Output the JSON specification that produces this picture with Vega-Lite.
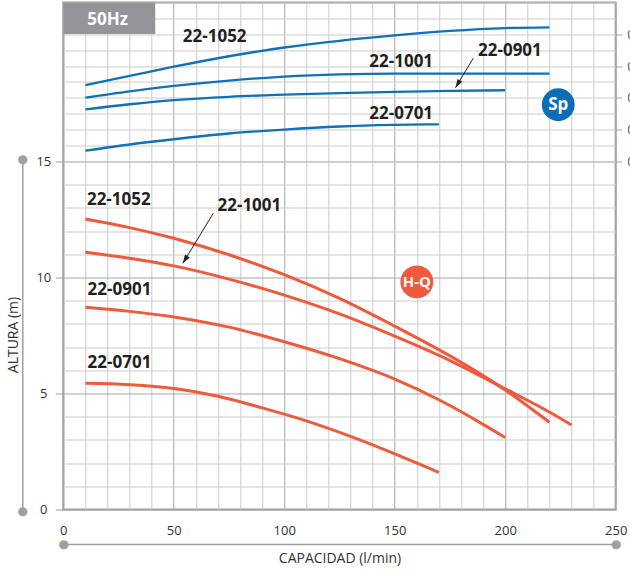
{
  "$schema": "https://vega.github.io/schema/vega-lite/v6.json",
  "width": 552.4,
  "height": 507,
  "autosize": "none",
  "padding": {"left": 63.3, "top": 2.5, "right": 14, "bottom": 63.5},
  "background": "white",
  "config": {
    "view": {"stroke": "#9c9c9c", "strokeWidth": 2},
    "axis": {"gridWidth": 1}
  },
  "datasets": {
    "hq": [
      {"m": "22-1052", "q": 10, "h": 12.52}, {"m": "22-1052", "q": 30, "h": 12.15}, {"m": "22-1052", "q": 50, "h": 11.69},
      {"m": "22-1052", "q": 75, "h": 10.98}, {"m": "22-1052", "q": 100, "h": 10.12}, {"m": "22-1052", "q": 125, "h": 9.1},
      {"m": "22-1052", "q": 150, "h": 7.9}, {"m": "22-1052", "q": 175, "h": 6.62}, {"m": "22-1052", "q": 200, "h": 5.15},
      {"m": "22-1052", "q": 210, "h": 4.47}, {"m": "22-1052", "q": 220, "h": 3.76},
      {"m": "22-1001", "q": 10, "h": 11.09}, {"m": "22-1001", "q": 30, "h": 10.83}, {"m": "22-1001", "q": 50, "h": 10.5},
      {"m": "22-1001", "q": 75, "h": 9.93}, {"m": "22-1001", "q": 100, "h": 9.24}, {"m": "22-1001", "q": 125, "h": 8.43},
      {"m": "22-1001", "q": 150, "h": 7.47}, {"m": "22-1001", "q": 175, "h": 6.42}, {"m": "22-1001", "q": 200, "h": 5.2},
      {"m": "22-1001", "q": 220, "h": 4.2}, {"m": "22-1001", "q": 230, "h": 3.64},
      {"m": "22-0901", "q": 10, "h": 8.72}, {"m": "22-0901", "q": 30, "h": 8.54}, {"m": "22-0901", "q": 50, "h": 8.3},
      {"m": "22-0901", "q": 75, "h": 7.86}, {"m": "22-0901", "q": 100, "h": 7.23}, {"m": "22-0901", "q": 125, "h": 6.5},
      {"m": "22-0901", "q": 150, "h": 5.62}, {"m": "22-0901", "q": 170, "h": 4.73}, {"m": "22-0901", "q": 190, "h": 3.67},
      {"m": "22-0901", "q": 200, "h": 3.1},
      {"m": "22-0701", "q": 10, "h": 5.44}, {"m": "22-0701", "q": 30, "h": 5.38}, {"m": "22-0701", "q": 50, "h": 5.22},
      {"m": "22-0701", "q": 70, "h": 4.88}, {"m": "22-0701", "q": 90, "h": 4.38}, {"m": "22-0701", "q": 110, "h": 3.82},
      {"m": "22-0701", "q": 130, "h": 3.15}, {"m": "22-0701", "q": 150, "h": 2.4}, {"m": "22-0701", "q": 170, "h": 1.6}
    ],
    "sp": [
      {"m": "22-1052", "q": 10, "p": 4.81}, {"m": "22-1052", "q": 30, "p": 5.38}, {"m": "22-1052", "q": 50, "p": 5.96},
      {"m": "22-1052", "q": 75, "p": 6.62}, {"m": "22-1052", "q": 100, "p": 7.17}, {"m": "22-1052", "q": 125, "p": 7.59},
      {"m": "22-1052", "q": 150, "p": 7.93}, {"m": "22-1052", "q": 175, "p": 8.21}, {"m": "22-1052", "q": 200, "p": 8.39},
      {"m": "22-1052", "q": 220, "p": 8.44},
      {"m": "22-1001", "q": 10, "p": 4.01}, {"m": "22-1001", "q": 30, "p": 4.41}, {"m": "22-1001", "q": 50, "p": 4.75},
      {"m": "22-1001", "q": 75, "p": 5.09}, {"m": "22-1001", "q": 100, "p": 5.34}, {"m": "22-1001", "q": 125, "p": 5.48},
      {"m": "22-1001", "q": 150, "p": 5.53}, {"m": "22-1001", "q": 175, "p": 5.53}, {"m": "22-1001", "q": 200, "p": 5.53},
      {"m": "22-1001", "q": 220, "p": 5.53},
      {"m": "22-0901", "q": 10, "p": 3.28}, {"m": "22-0901", "q": 30, "p": 3.6}, {"m": "22-0901", "q": 50, "p": 3.86},
      {"m": "22-0901", "q": 75, "p": 4.07}, {"m": "22-0901", "q": 100, "p": 4.2}, {"m": "22-0901", "q": 125, "p": 4.3},
      {"m": "22-0901", "q": 150, "p": 4.38}, {"m": "22-0901", "q": 175, "p": 4.44}, {"m": "22-0901", "q": 200, "p": 4.48},
      {"m": "22-0701", "q": 10, "p": 0.68}, {"m": "22-0701", "q": 30, "p": 1.07}, {"m": "22-0701", "q": 50, "p": 1.4},
      {"m": "22-0701", "q": 75, "p": 1.76}, {"m": "22-0701", "q": 100, "p": 2.01}, {"m": "22-0701", "q": 125, "p": 2.2},
      {"m": "22-0701", "q": 150, "p": 2.3}, {"m": "22-0701", "q": 170, "p": 2.34}
    ],
    "hqLabels": [
      {"t": "22-1052", "q": 10.7, "h": 13.12},
      {"t": "22-1001", "q": 69.8, "h": 12.87},
      {"t": "22-0901", "q": 11.0, "h": 9.25},
      {"t": "22-0701", "q": 11.0, "h": 6.1}
    ],
    "spLabels": [
      {"t": "22-1052", "q": 54.1, "p": 7.53},
      {"t": "22-1001", "q": 138.5, "p": 5.96},
      {"t": "22-0901", "q": 187.7, "p": 6.65},
      {"t": "22-0701", "q": 138.5, "p": 2.67}
    ],
    "hqArrow": [{"q": 54.1, "h": 10.61, "q2": 67.9, "h2": 12.77}],
    "spArrow": [{"q": 177.5, "p": 4.64, "q2": 185.5, "p2": 6.49}],
    "hqBadge": [{"t": "H-Q", "q": 160, "h": 9.81}],
    "spBadge": [{"t": "Sp", "q": 224, "p": 3.57}],
    "tagBox": [{"q": 0, "q2": 41.6, "p": 10, "p2": 8.02}],
    "tagText": [{"t": "50Hz", "q": 20.1, "p": 8.9}]
  },
  "layer": [
    {
      "encoding": {
        "x": {
          "field": "q", "type": "quantitative",
          "scale": {"domain": [0, 250], "nice": false, "zero": false},
          "axis": {
            "orient": "bottom",
            "values": [0,10,20,30,40,50,60,70,80,90,100,110,120,130,140,150,160,170,180,190,200,210,220,230,240,250],
            "grid": true,
            "gridColor": {"condition": {"test": "datum.value % 50 === 0", "value": "#a6a6a6"}, "value": "#cbcbcb"},
            "ticks": false, "tickSize": 0, "domain": false,
            "labelExpr": "datum.value % 50 === 0 ? datum.label : ''",
            "labelFlush": false, "labelOverlap": false,
            "labelPadding": 15, "labelFont": "Open Sans", "labelFontSize": 13, "labelColor": "#333333",
            "title": null
          }
        },
        "y": {
          "field": "h", "type": "quantitative",
          "scale": {"domain": [0, 21.853], "nice": false, "zero": false},
          "axis": {
            "orient": "left",
            "values": [0,1,2,3,4,5,6,7,8,9,10,11,12,13,14,15],
            "grid": true,
            "gridColor": {"condition": {"test": "datum.value % 5 === 0", "value": "#a6a6a6"}, "value": "#cbcbcb"},
            "ticks": true, "tickSize": 8, "tickColor": "#9c9c9c",
            "tickOpacity": {"condition": {"test": "datum.value % 5 === 0", "value": 1}, "value": 0},
            "domain": false,
            "labelExpr": "datum.value % 5 === 0 ? datum.label : ''",
            "labelAlign": "center", "labelBaseline": "middle", "labelPadding": 12,
            "labelFont": "Open Sans", "labelFontSize": 13, "labelColor": "#333333",
            "title": null
          }
        }
      },
      "layer": [
        {
          "data": {"name": "hq"},
          "mark": {"type": "line", "color": "#f05a3c", "strokeWidth": 3, "interpolate": "monotone"},
          "encoding": {"detail": {"field": "m", "type": "nominal"}}
        },
        {
          "data": {"name": "hqLabels"},
          "mark": {"type": "text", "font": "Open Sans", "fontWeight": "bold", "fontSize": 17, "color": "#231f20", "align": "left", "baseline": "alphabetic"},
          "encoding": {"text": {"field": "t", "type": "nominal"}}
        },
        {
          "data": {"name": "hqArrow"},
          "mark": {"type": "rule", "color": "#231f20", "strokeWidth": 1},
          "encoding": {"x2": {"field": "q2"}, "y2": {"field": "h2"}}
        },
        {
          "data": {"name": "hqArrow"},
          "mark": {"type": "point", "shape": "M0,0L-0.32,1L0.32,1Z", "size": 300, "angle": 211.5, "filled": true, "color": "#231f20", "opacity": 1},
          "encoding": {}
        },
        {
          "data": {"name": "hqBadge"},
          "mark": {"type": "point", "shape": "circle", "size": 1075, "filled": true, "color": "#ef5a3c", "opacity": 1},
          "encoding": {}
        },
        {
          "data": {"name": "hqBadge"},
          "mark": {"type": "text", "font": "Open Sans", "fontWeight": "bold", "fontSize": 15, "color": "white", "align": "center", "baseline": "middle"},
          "encoding": {"text": {"field": "t", "type": "nominal"}}
        }
      ]
    },
    {
      "encoding": {
        "x": {
          "field": "q", "type": "quantitative",
          "scale": {"domain": [0, 250], "nice": false, "zero": false},
          "axis": null
        },
        "y": {
          "field": "p", "type": "quantitative",
          "scale": {"domain": [-21.887, 10], "nice": false, "zero": false},
          "axis": {
            "orient": "right",
            "values": [0,1,2,3,4,5,6,7,8,9,10],
            "grid": true, "gridColor": "#cbcbcb",
            "ticks": true, "tickSize": 6, "tickColor": "#9c9c9c",
            "tickOpacity": {"condition": {"test": "datum.value % 2 === 0 && datum.value < 10", "value": 1}, "value": 0},
            "domain": false,
            "labelExpr": "datum.value % 2 === 0 && datum.value < 10 ? format(datum.value / 10, '.1f') : ''",
            "labelPadding": 5, "labelFont": "Open Sans", "labelFontSize": 13, "labelColor": "#555555",
            "labelBaseline": "middle",
            "title": null
          }
        }
      },
      "layer": [
        {
          "data": {"name": "sp"},
          "mark": {"type": "line", "color": "#1071b8", "strokeWidth": 2.3, "interpolate": "monotone"},
          "encoding": {"detail": {"field": "m", "type": "nominal"}}
        },
        {
          "data": {"name": "spLabels"},
          "mark": {"type": "text", "font": "Open Sans", "fontWeight": "bold", "fontSize": 17, "color": "#231f20", "align": "left", "baseline": "alphabetic"},
          "encoding": {"text": {"field": "t", "type": "nominal"}}
        },
        {
          "data": {"name": "spArrow"},
          "mark": {"type": "rule", "color": "#231f20", "strokeWidth": 1},
          "encoding": {"x2": {"field": "q2"}, "y2": {"field": "p2"}}
        },
        {
          "data": {"name": "spArrow"},
          "mark": {"type": "point", "shape": "M0,0L-0.32,1L0.32,1Z", "size": 300, "angle": 211, "filled": true, "color": "#231f20", "opacity": 1},
          "encoding": {}
        },
        {
          "data": {"name": "spBadge"},
          "mark": {"type": "point", "shape": "circle", "size": 1075, "filled": true, "color": "#0b6db5", "opacity": 1},
          "encoding": {}
        },
        {
          "data": {"name": "spBadge"},
          "mark": {"type": "text", "font": "Open Sans", "fontWeight": "bold", "fontSize": 17, "color": "white", "align": "center", "baseline": "middle"},
          "encoding": {"text": {"field": "t", "type": "nominal"}}
        },
        {
          "data": {"name": "tagBox"},
          "mark": {"type": "rect", "color": "#939598", "opacity": 1},
          "encoding": {"x2": {"field": "q2"}, "y2": {"field": "p2"}}
        },
        {
          "data": {"name": "tagText"},
          "mark": {"type": "text", "font": "Open Sans", "fontWeight": "bold", "fontSize": 17, "color": "white", "align": "center", "baseline": "middle"},
          "encoding": {"text": {"field": "t", "type": "nominal"}}
        }
      ]
    },
    {
      "data": {"values": [{}]},
      "mark": {"type": "point", "opacity": 0},
      "encoding": {
        "x": {
          "datum": 0, "type": "quantitative",
          "scale": {"domain": [0, 250], "nice": false, "zero": false},
          "axis": {
            "orient": "bottom", "offset": 34.5,
            "values": [0, 250], "grid": false, "ticks": false, "tickSize": 0,
            "domain": true, "domainColor": "#a0a0a0", "domainWidth": 1.5,
            "labelExpr": "'●'", "labelFlush": false, "labelOverlap": false,
            "labelBaseline": "middle", "labelPadding": 0,
            "labelFont": "DejaVu Sans", "labelFontSize": 12, "labelColor": "#a0a0a0",
            "title": "CAPACIDAD (l/min)", "titleFont": "Open Sans", "titleFontSize": 14,
            "titleFontWeight": "normal", "titleColor": "#333333", "titlePadding": 2
          }
        },
        "y": {
          "datum": 0, "type": "quantitative",
          "scale": {"domain": [0, 1], "range": [508.2, 155.8], "nice": false, "zero": false},
          "axis": {
            "orient": "left", "offset": 41,
            "values": [0, 1], "grid": false, "ticks": false, "tickSize": 0,
            "domain": true, "domainColor": "#a0a0a0", "domainWidth": 1.5,
            "labelExpr": "'●'", "labelFlush": false, "labelOverlap": false,
            "labelAlign": "center", "labelBaseline": "middle", "labelPadding": 0,
            "labelFont": "DejaVu Sans", "labelFontSize": 12, "labelColor": "#a0a0a0",
            "title": "ALTURA (m)", "titleFont": "Open Sans", "titleFontSize": 14,
            "titleFontWeight": "normal", "titleColor": "#333333", "titlePadding": -3
          }
        }
      }
    }
  ],
  "resolve": {"scale": {"y": "independent"}, "axis": {"x": "independent", "y": "independent"}}
}
